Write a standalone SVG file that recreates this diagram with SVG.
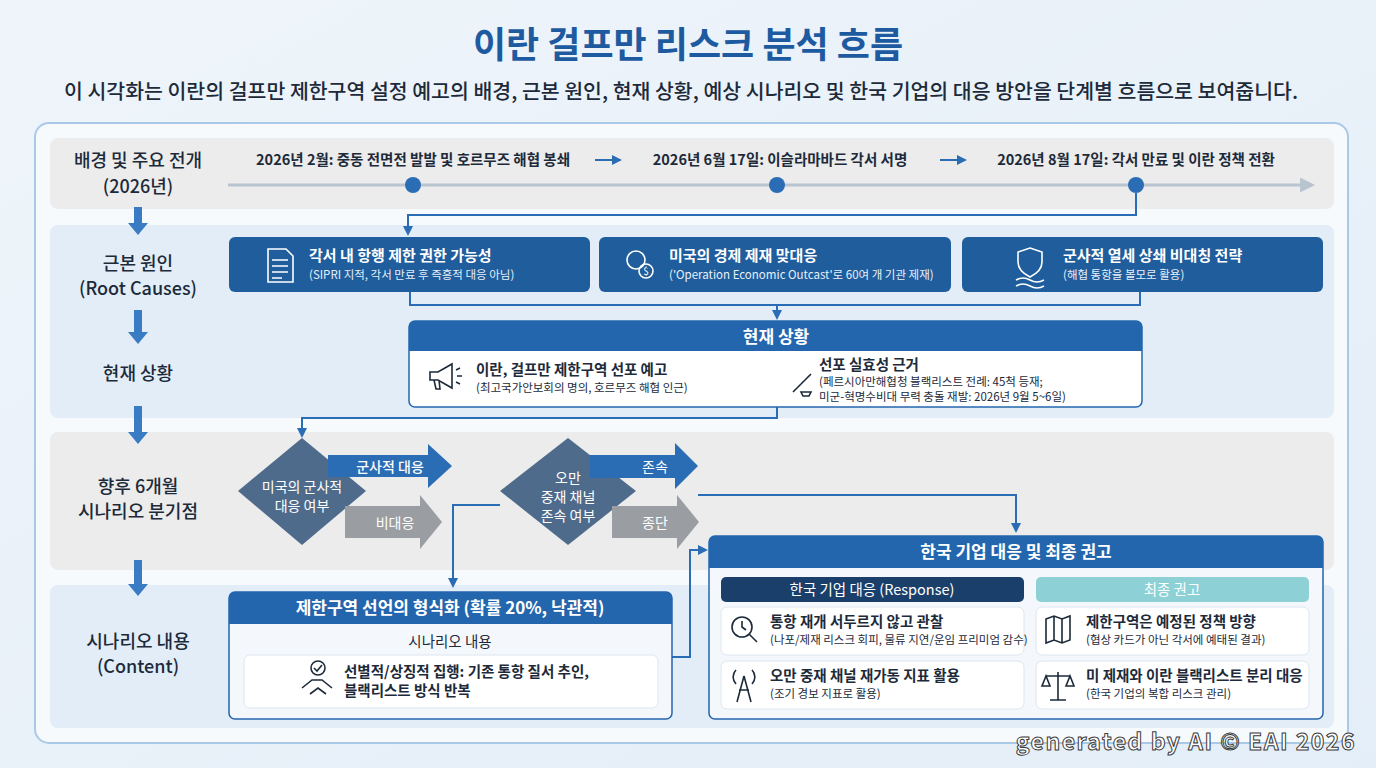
<svg xmlns="http://www.w3.org/2000/svg" width="1376" height="768" viewBox="0 0 1376 768">
<defs>
<linearGradient id="bg" x1="0" y1="0" x2="1" y2="1"><stop offset="0" stop-color="#eef4fa"/><stop offset="1" stop-color="#e4eef8"/></linearGradient>
<marker id="ah" viewBox="0 0 10 10" refX="8" refY="5" markerWidth="5" markerHeight="5" orient="auto"><path d="M0,0 L10,5 L0,10 z" fill="#2a6db5"/></marker>
<marker id="ahg" viewBox="0 0 10 10" refX="8" refY="5" markerWidth="5" markerHeight="5" orient="auto"><path d="M0,0 L10,5 L0,10 z" fill="#b8c4d0"/></marker>
<style>
text{font-family:"Noto Sans CJK KR","Noto Sans",sans-serif}
.lab{font-size:18px;fill:#1c2a3a;text-anchor:middle;font-weight:500}
.tl{font-size:14.5px;fill:#1c2a3a;font-weight:700;text-anchor:middle}
.card{fill:#1f5d9c}
.ct{font-size:15px;fill:#fff;font-weight:700}
.cs{font-size:11.5px;fill:#e8f0fa}
.con{fill:none;stroke:#2a6db5;stroke-width:2}
.hd{fill:#2466ad}
.ht{font-size:17px;fill:#fff;font-weight:700;text-anchor:middle}
.bt{font-size:14.5px;fill:#1c2a3a;font-weight:700}
.bs{font-size:11.5px;fill:#1c2a3a}
.wc{fill:#fff;stroke:#dde6ef}
.ic{fill:none;stroke:#1c2a3a;stroke-width:1.6}
.icw{fill:none;stroke:#fff;stroke-width:1.6}
.down{fill:#3a7cc4}
</style>
</defs>
<rect width="1376" height="768" fill="url(#bg)"/>
<text x="688" y="58" font-size="36" font-weight="700" fill="#1e5aa0" text-anchor="middle">이란 걸프만 리스크 분석 흐름</text>
<text x="681" y="99" font-size="20.5" fill="#1c2a3a" text-anchor="middle" font-weight="500">이 시각화는 이란의 걸프만 제한구역 설정 예고의 배경, 근본 원인, 현재 상황, 예상 시나리오 및 한국 기업의 대응 방안을 단계별 흐름으로 보여줍니다.</text>
<rect x="35" y="123" width="1313" height="620" rx="14" fill="#f7fafd" stroke="#a9c9e6" stroke-width="2"/>
<g id="bands">
<rect x="50" y="138" width="1284" height="71" rx="8" fill="#ececec"/>
<rect x="50" y="225" width="1284" height="193" rx="8" fill="#e2edf8"/>
<rect x="50" y="432" width="1284" height="138" rx="8" fill="#ececec"/>
<rect x="50" y="585" width="1284" height="143" rx="8" fill="#e2edf8"/>
</g>
<g id="labels">
<text class="lab" x="138" y="167">배경 및 주요 전개</text><text class="lab" x="138" y="193">(2026년)</text>
<text class="lab" x="138" y="270">근본 원인</text><text class="lab" x="138" y="295">(Root Causes)</text>
<text class="lab" x="138" y="380">현재 상황</text>
<text class="lab" x="138" y="493">향후 6개월</text><text class="lab" x="138" y="518">시나리오 분기점</text>
<text class="lab" x="138" y="648">시나리오 내용</text><text class="lab" x="138" y="673">(Content)</text>
<path class="down" d="M134,207h8v16h6l-10,12l-10,-12h6z"/>
<path class="down" d="M134,310h8v22h6l-10,12l-10,-12h6z"/>
<path class="down" d="M134,406h8v26h6l-10,12l-10,-12h6z"/>
<path class="down" d="M134,560h8v24h6l-10,12l-10,-12h6z"/>
</g>
<g id="timeline">
<line x1="228" y1="185" x2="1312" y2="185" stroke="#b8c4d0" stroke-width="3" marker-end="url(#ahg)"/>
<circle cx="413" cy="185" r="8" fill="#2a6db5"/><circle cx="777" cy="185" r="8" fill="#2a6db5"/><circle cx="1136" cy="185" r="8" fill="#2a6db5"/>
<text class="tl" x="413" y="165">2026년 2월: 중동 전면전 발발 및 호르무즈 해협 봉쇄</text>
<text class="tl" x="780" y="165">2026년 6월 17일: 이슬라마바드 각서 서명</text>
<text class="tl" x="1136" y="165">2026년 8월 17일: 각서 만료 및 이란 정책 전환</text>
<line x1="595" y1="160" x2="620" y2="160" class="con" marker-end="url(#ah)"/>
<line x1="940" y1="160" x2="965" y2="160" class="con" marker-end="url(#ah)"/>
</g>
<g id="connectors">
<path class="con" d="M1136,193V215H408V234" marker-end="url(#ah)"/>
<path class="con" d="M410,292V305H1140V292M777,305V318" marker-end="url(#ah)"/>
<path class="con" d="M777,407V418H302V436" marker-end="url(#ah)"/>
<path class="con" d="M500,505H453V586" marker-end="url(#ah)"/>
<path class="con" d="M698,495H1016V531" marker-end="url(#ah)"/>
<path class="con" d="M672,657H690V550H706" marker-end="url(#ah)"/>
</g>
<g id="cause1"><rect class="card" x="229" y="237" width="361" height="55" rx="6"/>
<path class="icw" d="M268,249h18l7,7v26h-25zM272,260h16M272,266h16M272,272h16M272,278h10"/>
<text class="ct" x="309" y="261">각서 내 항행 제한 권한 가능성</text><text class="cs" x="309" y="279">(SIPRI 지적, 각서 만료 후 즉흥적 대응 아님)</text></g>
<g id="cause2"><rect class="card" x="599" y="237" width="352" height="55" rx="6"/>
<circle class="icw" cx="636" cy="260" r="9"/><circle class="icw" cx="646" cy="271" r="7"/><text x="646" y="275" font-size="10" fill="#fff" text-anchor="middle">$</text>
<text class="ct" x="669" y="261">미국의 경제 제재 맞대응</text><text class="cs" x="669" y="279">('Operation Economic Outcast'로 60여 개 기관 제재)</text></g>
<g id="cause3"><rect class="card" x="962" y="237" width="361" height="55" rx="6"/>
<path class="icw" d="M1030,248l12,4v10c0,8-6,12-12,15c-6-3-12-7-12-15v-10zM1016,280q7,-4 14,0t14,0M1016,286q7,-4 14,0t14,0"/>
<text class="ct" x="1063" y="261">군사적 열세 상쇄 비대칭 전략</text><text class="cs" x="1063" y="279">(해협 통항을 볼모로 활용)</text></g>
<g id="current"><rect x="409" y="321" width="733" height="86" rx="6" fill="#fff" stroke="#2466ad" stroke-width="1.5"/>
<path class="hd" d="M409,351v-24a6,6 0 0 1 6,-6h721a6,6 0 0 1 6,6v24z"/>
<text class="ht" x="776" y="343">현재 상황</text>
<path class="ic" d="M430,372h8l14,-8v24l-14,-8h-8zM434,380l2,9h4l-1,-9M456,370l4,-2M457,376h5M456,382l4,2"/>
<text class="bt" x="476" y="375">이란, 걸프만 제한구역 선포 예고</text><text class="bs" x="476" y="392">(최고국가안보회의 명의, 호르무즈 해협 인근)</text>
<path class="ic" d="M793,392l6,-6M797,388l6,-6M801,384l6,-6M805,380l6,-6M801,392h10l-2,4h-6z"/>
<text class="bt" x="819" y="370">선포 실효성 근거</text><text class="bs" x="819" y="386">(페르시아만해협청 블랙리스트 전례: 45척 등재;</text><text class="bs" x="819" y="401">미군-혁명수비대 무력 충돌 재발: 2026년 9월 5~6일)</text></g>
<g id="d1"><path d="M302,438L366,491L302,545L238,491z" fill="#4f6b8b"/>
<text x="302" y="492" font-size="14" fill="#fff" text-anchor="middle">미국의 군사적</text><text x="302" y="511" font-size="14" fill="#fff" text-anchor="middle">대응 여부</text></g>
<g id="a1"><path d="M328,455h100v-11l24,22l-24,22v-11h-100z" fill="#2a6db5"/><text x="390" y="472" font-size="14" fill="#fff" text-anchor="middle" font-weight="500">군사적 대응</text></g>
<g id="a2"><path d="M345,506h75v-11l22,27l-22,27v-11h-75z" fill="#9a9ea3"/><text x="395" y="528" font-size="14" fill="#fff" text-anchor="middle">비대응</text></g>
<g id="d2"><path d="M568,438L636,491L568,545L500,491z" fill="#4f6b8b"/>
<text x="568" y="483" font-size="14" fill="#fff" text-anchor="middle">오만</text><text x="568" y="502" font-size="14" fill="#fff" text-anchor="middle">중재 채널</text><text x="568" y="521" font-size="14" fill="#fff" text-anchor="middle">존속 여부</text></g>
<g id="a3"><path d="M590,455h85v-12l23,23l-23,23v-11h-85z" fill="#2a6db5"/><text x="655" y="472" font-size="14" fill="#fff" text-anchor="middle">존속</text></g>
<g id="a4"><path d="M612,506h65v-11l22,27l-22,27v-11h-65z" fill="#9a9ea3"/><text x="655" y="528" font-size="14" fill="#fff" text-anchor="middle">종단</text></g>
<g id="scenario"><rect x="229" y="592" width="443" height="127" rx="6" fill="#f4f8fc" stroke="#2466ad" stroke-width="1.5"/>
<path class="hd" d="M229,624v-26a6,6 0 0 1 6,-6h431a6,6 0 0 1 6,6v26z"/>
<text class="ht" x="450" y="614">제한구역 선언의 형식화 (확률 20%, 낙관적)</text>
<text x="450" y="647" font-size="14.5" fill="#1c2a3a" text-anchor="middle">시나리오 내용</text>
<rect class="wc" x="244" y="655" width="414" height="53" rx="6"/>
<circle class="ic" cx="318" cy="668" r="7"/><path class="ic" d="M314,668l3,3l5,-6M302,688l10,-8h10l10,8M310,694l8,-6l8,6"/>
<text class="bt" x="344" y="677">선별적/상징적 집행: 기존 통항 질서 추인,</text><text class="bt" x="344" y="696">블랙리스트 방식 반복</text></g>
<g id="korea"><rect x="709" y="536" width="614" height="183" rx="6" fill="#f4f8fc" stroke="#2466ad" stroke-width="1.5"/>
<path class="hd" d="M709,568v-26a6,6 0 0 1 6,-6h602a6,6 0 0 1 6,6v26z"/>
<text class="ht" x="1016" y="558">한국 기업 대응 및 최종 권고</text>
<rect x="721" y="577" width="303" height="25" rx="5" fill="#1b3f6b"/><text x="872" y="595" font-size="14.5" fill="#fff" text-anchor="middle">한국 기업 대응 (Response)</text>
<rect x="1036" y="577" width="273" height="25" rx="5" fill="#8dd1d6"/><text x="1172" y="595" font-size="14.5" fill="#fff" text-anchor="middle">최종 권고</text>
<rect class="wc" x="721" y="607" width="303" height="48" rx="6"/><rect class="wc" x="721" y="661" width="303" height="48" rx="6"/>
<rect class="wc" x="1036" y="607" width="273" height="48" rx="6"/><rect class="wc" x="1036" y="661" width="273" height="48" rx="6"/>
<circle class="ic" cx="742" cy="627" r="10"/><path class="ic" d="M749,634l8,8M742,621v6l4,3"/>
<text class="bt" x="770" y="627">통항 재개 서두르지 않고 관찰</text><text class="bs" x="770" y="644">(나포/제재 리스크 회피, 물류 지연/운임 프리미엄 감수)</text>
<path class="ic" d="M744,676l-7,26M744,676l7,26M739,690h10M736,670a10,10 0 0 0 0,14M752,670a10,10 0 0 1 0,14"/>
<text class="bt" x="770" y="681">오만 중재 채널 재가동 지표 활용</text><text class="bs" x="770" y="698">(조기 경보 지표로 활용)</text>
<path class="ic" d="M1046,619l8,-3l8,3l8,-3v24l-8,3l-8,-3l-8,3zM1054,616v24M1062,619v24"/>
<text class="bt" x="1086" y="627">제한구역은 예정된 정책 방향</text><text class="bs" x="1086" y="644">(협상 카드가 아닌 각서에 예태된 결과)</text>
<path class="ic" d="M1058,672v28M1050,700h16M1046,676h24M1046,676l-4,10h8zM1070,676l-4,10h8z"/>
<text class="bt" x="1086" y="681">미 제재와 이란 블랙리스트 분리 대응</text><text class="bs" x="1086" y="698">(한국 기업의 복합 리스크 관리)</text></g>
<text x="1356" y="750" font-size="23" font-weight="700" letter-spacing="1.5" fill="#fff" stroke="#3a3a3a" stroke-width="1" text-anchor="end" font-family="DejaVu Sans,sans-serif">generated by AI © EAI 2026</text>
</svg>
